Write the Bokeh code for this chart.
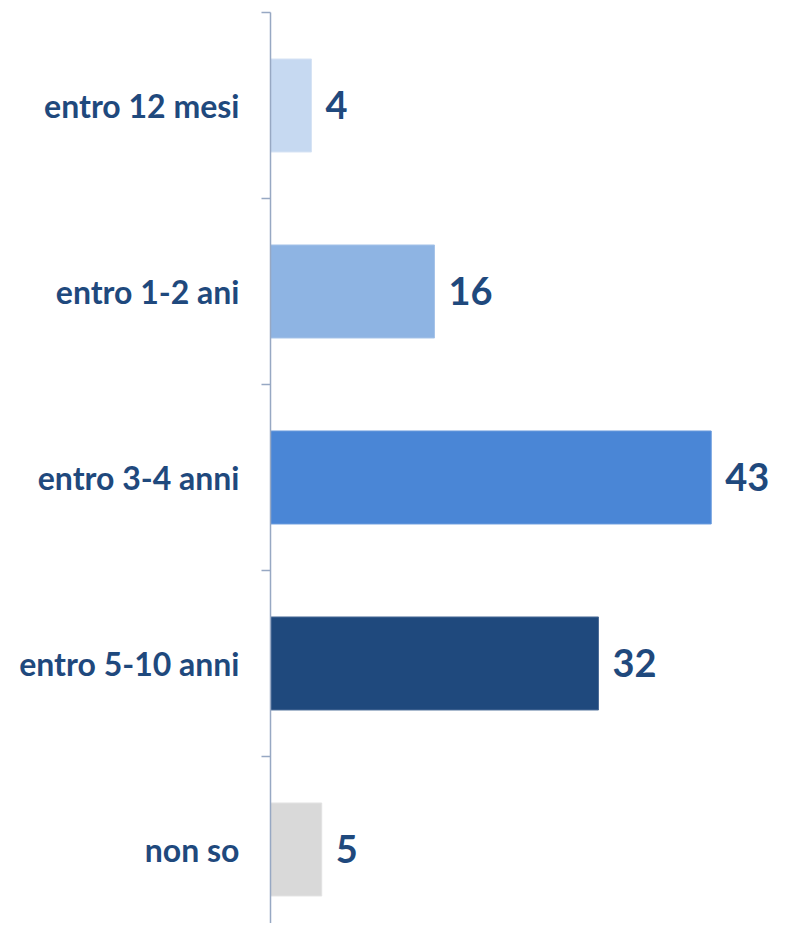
from bokeh.plotting import figure
from bokeh.models import ColumnDataSource, Range1d, FixedTicker
from bokeh.core.properties import value
from bokeh.embed import file_html
from bokeh.resources import INLINE

categories = ["entro 12 mesi", "entro 1-2 ani", "entro 3-4 anni", "entro 5-10 anni", "non so"]
values = [4, 16, 43, 32, 5]
bar_colors = ["#C6D9F1", "#8EB4E3", "#4A86D6", "#1F497D", "#D9D9D9"]
edge_colors = ["#D6E3F4", "#A5C3E8", "#6A9BDD", "#4C6D97", "#E3E3E3"]
value_labels = ["4", "16", "43", "32", "5"]

n = len(categories)
ypos = [n - i - 0.5 for i in range(n)]

src = ColumnDataSource(dict(y=ypos, v=values, c=bar_colors, e=edge_colors,
                            lab=value_labels, cat=categories))

p = figure(width=771, height=923, output_backend="svg", toolbar_location=None,
           x_range=Range1d(0, 48.88), y_range=Range1d(0.102, 5),
           min_border_left=270, min_border_right=0, min_border_top=12, min_border_bottom=0)

p.hbar(y="y", right="v", left=0, height=0.5, fill_color="c", line_color="e",
       line_width=1, source=src)
p.text(x="v", y="y", text="lab", x_offset=14, text_align="left", text_baseline="middle",
       text_font=value("Lato"), text_font_style="bold", text_font_size="38px",
       text_color="#1F497D", source=src)

p.xaxis.visible = False
p.xgrid.visible = False
p.ygrid.visible = False
p.outline_line_color = None

ax = p.yaxis[0]
ax.ticker = FixedTicker(ticks=ypos, minor_ticks=[0, 1, 2, 3, 4, 5])
ax.major_label_overrides = {y: c for y, c in zip(ypos, categories)}
ax.major_tick_line_color = None
ax.major_tick_out = 0
ax.major_tick_in = 0
ax.minor_tick_out = 9
ax.minor_tick_in = 0
ax.minor_tick_line_color = "#97A8C3"
ax.minor_tick_line_width = 1.5
ax.axis_line_color = "#97A8C3"
ax.axis_line_width = 1.5
ax.major_label_standoff = 22
ax.major_label_text_font = "Lato"
ax.major_label_text_font_style = "bold"
ax.major_label_text_font_size = "32px"
ax.major_label_text_color = "#1F497D"

open("out.html", "w").write(file_html(p, INLINE))
